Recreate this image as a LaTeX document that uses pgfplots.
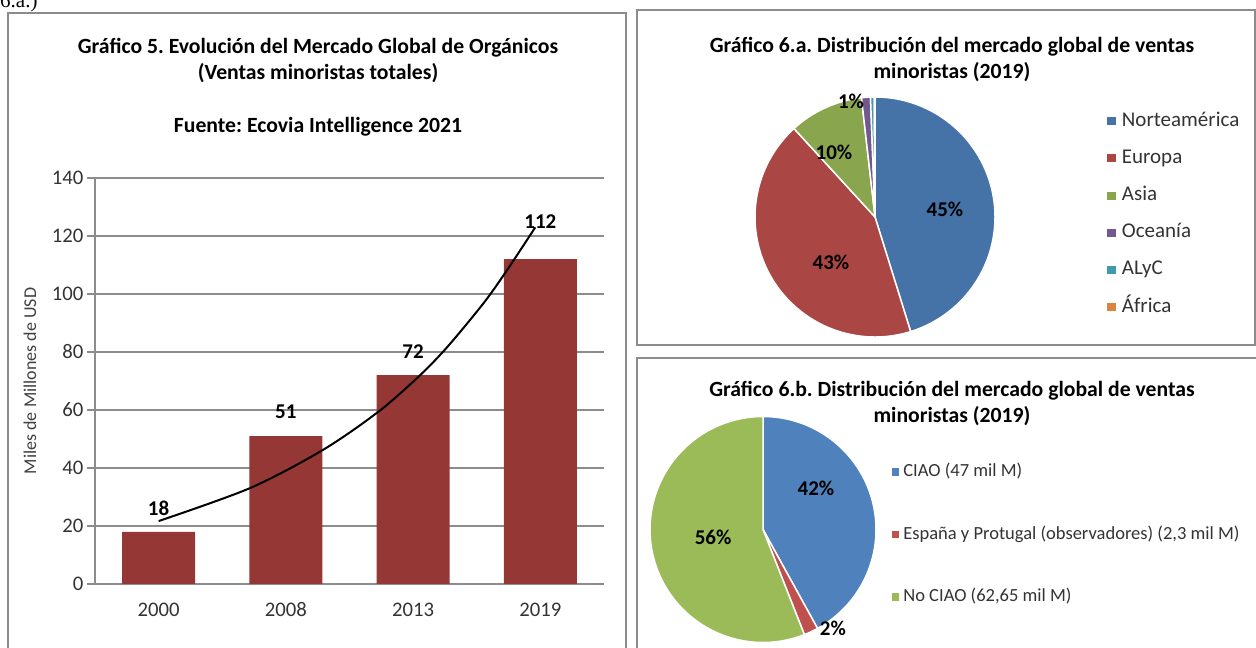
\documentclass[border=0pt]{standalone}
\usepackage{pgfplots}
\pgfplotsset{compat=1.18}
\usepackage{fontspec}
\setmainfont{Carlito}
\newfontfamily\timesfont{Liberation Serif}
\definecolor{barRed}{HTML}{953735}
\definecolor{gridGray}{HTML}{8C8C8C}
\definecolor{panelGray}{HTML}{8C8C8C}
\definecolor{txtGray}{HTML}{333333}
\definecolor{labGray}{HTML}{404040}
\definecolor{naBlue}{HTML}{4572A7}
\definecolor{euRed}{HTML}{AA4643}
\definecolor{asGreen}{HTML}{89A54E}
\definecolor{ocPurple}{HTML}{71588F}
\definecolor{alCyan}{HTML}{4198AF}
\definecolor{afOrange}{HTML}{DB843D}
\definecolor{ciBlue}{HTML}{4F81BD}
\definecolor{esRed}{HTML}{C0504D}
\definecolor{noGreen}{HTML}{9BBB59}

\newcommand\fs[1]{\fontsize{#1}{#1}\selectfont}

% pie wedges drawn inside an axis: #1 radius, #2 total, #3 list value/colour
\newcommand\piewedges[3]{%
  \xdef\piecum{0}%
  \foreach \v/\c in {#3}{%
    \pgfmathsetmacro\pa{90-(\piecum/#2)*360}%
    \pgfmathsetmacro\pnew{\piecum+\v}%
    \pgfmathsetmacro\pb{90-(\pnew/#2)*360}%
    \edef\temp{\noexpand\fill[\c, draw=white, line width=1.5pt, line join=round] (axis cs:0,0) -- ++(\pa:#1) arc[start angle=\pa, end angle=\pb, radius=#1] -- cycle;}%
    \temp
    \xdef\piecum{\pnew}%
  }%
}

\begin{document}
\frenchspacing
\begin{tikzpicture}
\useasboundingbox (0pt,0pt) rectangle (1256pt,648pt);
% cut-off text above
\node[anchor=base west, inner sep=0pt, font=\timesfont\fs{21}] at (0pt,640pt) {6.a.)};
% panels
\draw[panelGray, line width=2pt] (8pt,-20pt) -- (8pt,635pt) -- (626pt,635pt) -- (626pt,-20pt);
\draw[panelGray, line width=2pt] (637pt,303pt) rectangle (1255pt,638pt);
\draw[panelGray, line width=2pt] (637pt,-20pt) -- (637pt,290pt) -- (1262pt,290pt);

% titles
\tikzset{ttl/.style={anchor=base, inner sep=0pt, font=\bfseries\fs{21.7}}}
\node[ttl] at (318pt,594pt) {Gráfico 5. Evolución del Mercado Global de Orgánicos};
\node[ttl] at (318pt,568pt) {(Ventas minoristas totales)};
\node[ttl] at (318pt,515pt) {Fuente: Ecovia Intelligence 2021};
\node[ttl] at (952pt,595pt) {Gráfico 6.a. Distribución del mercado global de ventas};
\node[ttl] at (952pt,569pt) {minoristas (2019)};
\node[ttl] at (952pt,251pt) {Gráfico 6.b. Distribución del mercado global de ventas};
\node[ttl] at (952pt,225pt) {minoristas (2019)};

% ---------- Bar chart ----------
\begin{axis}[
  at={(95pt,64pt)}, anchor=south west, width=509pt, height=406pt, scale only axis,
  xmin=-0.5, xmax=3.5, ymin=0, ymax=140,
  axis x line*=bottom, axis y line*=left,
  axis line style={gridGray, line width=1.5pt, -},
  xtick={0,1,2,3}, xticklabels={2000,2008,2013,2019},
  ytick={0,20,...,140},
  ymajorgrids, grid style={gridGray, line width=1.5pt},
  tick align=outside, major tick length=8pt,
  xtick style={draw=none}, ytick style={gridGray, line width=1.5pt},
  tick label style={font=\fs{20.7}, text=txtGray},
  xticklabel style={text height=13pt, text depth=0pt, yshift=-8pt},
  /pgf/number format/assume math mode=true,
  ylabel={Miles de Millones de USD},
  ylabel style={at={(axis description cs:-0.128,0.5)}, anchor=center, font=\fs{18}, text=labGray},
  clip=false,
]
\addplot[ybar, bar width=73pt, fill=barRed, draw=none] coordinates {(0,18) (1,51) (2,72) (3,112)};
\addplot[black, line width=2pt, smooth] coordinates {(0,21.7) (0.72,33.1) (1.29,46.2) (1.73,59.5) (2.05,71.8) (2.27,81.8) (2.56,97.2) (2.75,109) (2.96,123)};
\addplot[draw=none, mark=none, nodes near coords, point meta=explicit symbolic,
  nodes near coords style={anchor=center, font=\bfseries\fs{21}, text=black}]
  coordinates {(0,26.2)[18] (1,59.3)[51] (2,80)[72] (3,124.8)[112]};
\end{axis}

% ---------- Pie 6.a ----------
\begin{axis}[
  at={(755pt,311pt)}, anchor=south west, width=240pt, height=240pt, scale only axis,
  xmin=-1, xmax=1, ymin=-1, ymax=1, hide axis, clip=false,
  legend style={at={(1.455,0.95)}, anchor=north west, draw=none, fill=none,
    font=\fs{21}, text=txtGray, row sep=17.2pt,
    nodes={inner sep=0pt, text height=15pt, text depth=5pt}},
  legend cell align=left,
  legend image code/.code={\fill[#1] (0pt,-4pt) rectangle (8.5pt,4pt);},
]
\piewedges{120pt}{100}{45.2/naBlue, 43.0/euRed, 10.0/asGreen, 1.2/ocPurple, 0.5/alCyan, 0.1/afOrange}
\addlegendimage{fill=naBlue, draw=none}\addlegendentry{\hspace{6pt}Norteamérica}
\addlegendimage{fill=euRed, draw=none}\addlegendentry{\hspace{6pt}Europa}
\addlegendimage{fill=asGreen, draw=none}\addlegendentry{\hspace{6pt}Asia}
\addlegendimage{fill=ocPurple, draw=none}\addlegendentry{\hspace{6pt}Oceanía}
\addlegendimage{fill=alCyan, draw=none}\addlegendentry{\hspace{6pt}ALyC}
\addlegendimage{fill=afOrange, draw=none}\addlegendentry{\hspace{6pt}África}
\node[font=\bfseries\fs{21}] at (axis cs:0.583,0.067) {45\%};
\node[font=\bfseries\fs{21}] at (axis cs:-0.367,-0.375) {43\%};
\node[font=\bfseries\fs{21}] at (axis cs:-0.342,0.542) {10\%};
\node[font=\bfseries\fs{21}] at (axis cs:-0.2,0.967) {1\%};
\end{axis}

% ---------- Pie 6.b ----------
\begin{axis}[
  at={(650pt,5.5pt)}, anchor=south west, width=226pt, height=226pt, scale only axis,
  xmin=-1, xmax=1, ymin=-1, ymax=1, hide axis, clip=false,
  legend style={at={(1.056,0.801)}, anchor=north west, draw=none, fill=none,
    font=\fs{18.5}, text=txtGray, row sep=45.5pt,
    nodes={inner sep=0pt, text height=13pt, text depth=4pt}},
  legend cell align=left,
  legend image code/.code={\fill[#1] (0pt,-3.8pt) rectangle (7.5pt,3.8pt);},
]
\piewedges{113pt}{111.95}{47/ciBlue, 2.3/esRed, 62.65/noGreen}
\addlegendimage{fill=ciBlue, draw=none}\addlegendentry{\hspace{4pt}CIAO (47 mil M)}
\addlegendimage{fill=esRed, draw=none}\addlegendentry{\hspace{4pt}España y Protugal (observadores) (2,3 mil M)}
\addlegendimage{fill=noGreen, draw=none}\addlegendentry{\hspace{4pt}No CIAO (62,65 mil M)}
\node[font=\bfseries\fs{21}] at (axis cs:0.469,0.367) {42\%};
\node[font=\bfseries\fs{21}] at (axis cs:-0.442,-0.066) {56\%};
\node[font=\bfseries\fs{21}] at (axis cs:0.619,-0.872) {2\%};
\end{axis}
\end{tikzpicture}
\end{document}
